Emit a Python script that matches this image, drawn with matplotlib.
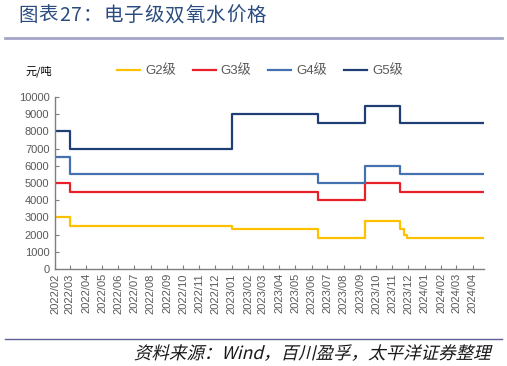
# -*- coding: utf-8 -*-
# Prix du peroxyde d'hydrogene de qualite electronique (G2 a G5), courbes en escalier
import numpy as np
import pandas as pd
import matplotlib
matplotlib.use("Agg")
import matplotlib.pyplot as plt
import matplotlib.dates as mdates
from matplotlib.lines import Line2D
from matplotlib.textpath import TextPath
from matplotlib.patches import PathPatch
from matplotlib.font_manager import FontProperties
from matplotlib.transforms import Affine2D, IdentityTransform

plt.rcParams["font.family"] = ["Liberation Sans", "Noto Sans CJK SC", "DejaVu Sans"]

# dates de changement de prix (le dernier point ferme la courbe)
dates = pd.to_datetime(["2022-02-01", "2022-03-01", "2023-01-01", "2023-06-14",
                        "2023-09-11", "2023-11-16", "2023-11-23", "2023-11-29",
                        "2024-04-22"])
g2 = [3000, 2500, 2300, 1800, 2800, 2300, 2000, 1800, 1800]
g3 = [5000, 4500, 4500, 4000, 5000, 4500, 4500, 4500, 4500]
g4 = [6500, 5500, 5500, 5000, 6000, 5500, 5500, 5500, 5500]
g5 = [8000, 7000, 9000, 8500, 9500, 8500, 8500, 8500, 8500]

noms = ["G2级", "G3级", "G4级", "G5级"]
couleurs = ["#FFC000", "#E8202A", "#4472B0", "#1F3E73"]
series = [g2, g3, g4, g5]

mois = pd.date_range("2022-02-01", "2024-04-01", freq="MS")

titre = "图表27：电子级双氧水价格"
source = "资料来源：Wind，百川盈孚，太平洋证券整理"

fig = plt.figure(figsize=(5.07, 3.66), dpi=100)
ax = fig.add_axes([0.1085, 0.265, 0.846, 0.47])

for vals, c in zip(series, couleurs):
    ax.step(dates, vals, where="post", color=c, lw=1.6)

ax.set_ylim(0, 10000)
ax.set_yticks(np.arange(0, 10001, 1000))
ax.set_xlim(dates[0], dates[-1])
ax.set_xticks(mois)
ax.xaxis.set_major_formatter(mdates.DateFormatter("%Y/%m"))

gris = "#595959"
for s in ["top", "right"]:
    ax.spines[s].set_visible(False)
for s in ["left", "bottom"]:
    ax.spines[s].set_color("#7f7f7f")
    ax.spines[s].set_linewidth(1.0)
ax.tick_params(axis="y", direction="in", length=3, colors="#7f7f7f",
               labelcolor=gris, labelsize=8, pad=4)
ax.tick_params(axis="x", direction="in", length=3, colors="#7f7f7f",
               labelcolor=gris, labelsize=8, rotation=90, pad=3)

# legende en haut
poignees = [Line2D([0], [0], color=c, lw=1.6) for c in couleurs]
fig.legend(poignees, noms, loc="center left", bbox_to_anchor=(0.207, 0.806),
           ncol=4, frameon=False, fontsize=9.5, handlelength=1.75,
           handletextpad=0.38, columnspacing=1.27, labelcolor=gris)
fig.text(0.05, 0.806, "元/吨", fontsize=8, ha="left", va="center",
         family=["Noto Sans CJK SC"])

# titre (avec un peu d'espacement entre les caracteres)
x_titre = 18
for car in titre:
    t = fig.text(x_titre / 507, 0.957, car, fontsize=14, color="#2A4C80",
                 ha="left", va="center", family=["Noto Sans CJK SC", "DejaVu Sans"])
    largeur = t.get_window_extent(renderer=fig.canvas.get_renderer()).width
    x_titre += largeur + 1.0

fig.add_artist(Line2D([0.01, 0.99], [0.897, 0.897], color="#A3A6C8", lw=2))
fig.add_artist(Line2D([0.01, 0.99], [0.074, 0.074], color="#5F5F9A", lw=1))

# source en italique : glyphes penches a la main
chemin = TextPath((0, 0), source, size=17.5,
                  prop=FontProperties(family="Noto Sans CJK SC"))
ext = chemin.get_extents()
trans = Affine2D().skew_deg(14, 0).translate(492 - ext.x1 - 2, 7)
fig.add_artist(PathPatch(chemin, transform=trans + IdentityTransform(),
                         facecolor="#1a1a1a", edgecolor="none"))

fig.savefig("out.png", dpi=100)
